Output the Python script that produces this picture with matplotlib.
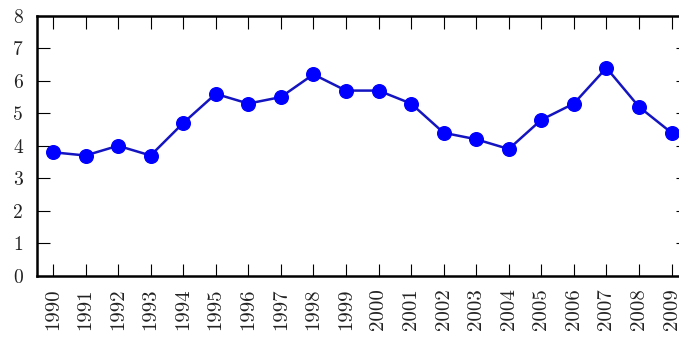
import numpy as np
import matplotlib
matplotlib.use("Agg")
import matplotlib.pyplot as plt

plt.rcParams['font.family'] = ['cmr10', 'DejaVu Serif']
plt.rcParams['axes.formatter.use_mathtext'] = True

years = list(range(1990, 2010))
values = [3.8, 3.7, 4.0, 3.7, 4.7, 5.6, 5.3, 5.5, 6.2, 5.7,
          5.7, 5.3, 4.4, 4.2, 3.9, 4.8, 5.3, 6.4, 5.2, 4.4]
yticks = [0, 1, 2, 3, 4, 5, 6, 7, 8]

fig = plt.figure(figsize=(6.79, 3.39), dpi=100)
ax = fig.add_axes([0.054, 0.187, 0.959, 0.766])

ax.plot(years, values, color='#1414c0', lw=1.8, marker='o', ms=9.8,
        mfc='#0000ff', mec='#0000ff', zorder=3)

ax.set_xlim(1989.5, 2009.5)
ax.set_ylim(0, 8)
ax.set_xticks(years)
ax.set_xticklabels([str(y) for y in years], rotation=90)
ax.set_yticks(yticks)
ax.set_yticklabels([str(t) for t in yticks])

ax.tick_params(direction='in', length=9, width=0.8, top=True, right=True,
               colors='black', labelcolor='#222222')
ax.tick_params(axis='x', pad=9, labelsize=15)
ax.tick_params(axis='y', pad=10, labelsize=14)
for sp in ax.spines.values():
    sp.set_linewidth(1.8)

fig.savefig('out.png', dpi=100)
